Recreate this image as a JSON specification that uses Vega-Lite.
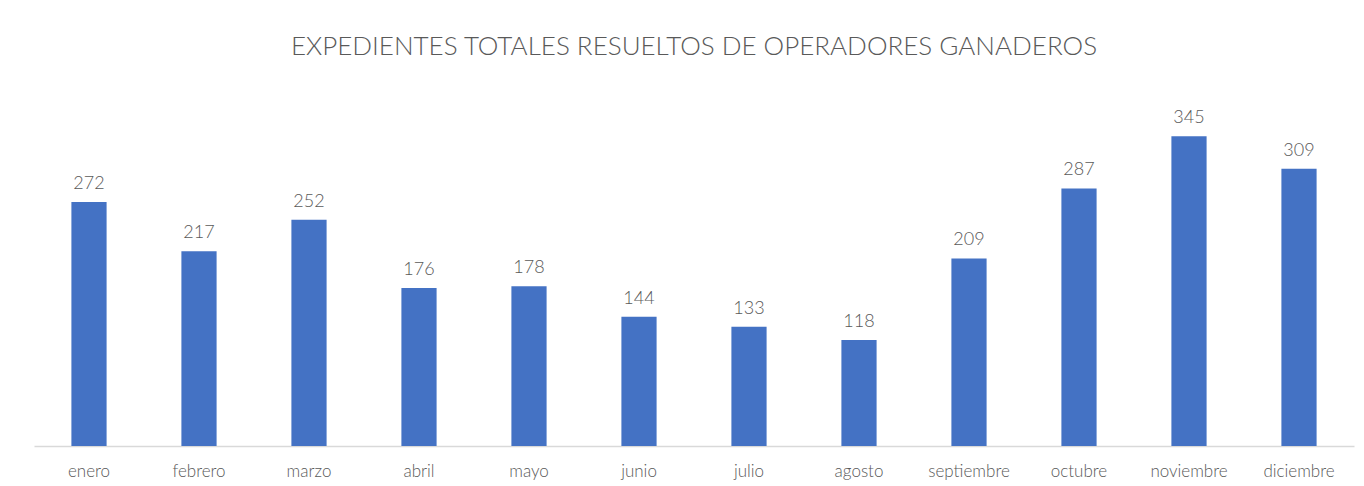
{
  "$schema": "https://vega.github.io/schema/vega-lite/v6.json",
  "width": 1320,
  "height": 359,
  "autosize": "none",
  "padding": {"left": 34, "top": 87, "right": 10, "bottom": 40},
  "background": "white",
  "title": {
    "text": "EXPEDIENTES TOTALES RESUELTOS DE OPERADORES GANADEROS",
    "anchor": "middle",
    "frame": "group",
    "baseline": "alphabetic",
    "offset": 6,
    "font": "Lato",
    "fontWeight": 300,
    "fontSize": 26,
    "color": "#595959"
  },
  "data": {
    "values": [
      {"mes": "enero", "expedientes": 272},
      {"mes": "febrero", "expedientes": 217},
      {"mes": "marzo", "expedientes": 252},
      {"mes": "abril", "expedientes": 176},
      {"mes": "mayo", "expedientes": 178},
      {"mes": "junio", "expedientes": 144},
      {"mes": "julio", "expedientes": 133},
      {"mes": "agosto", "expedientes": 118},
      {"mes": "septiembre", "expedientes": 209},
      {"mes": "octubre", "expedientes": 287},
      {"mes": "noviembre", "expedientes": 345},
      {"mes": "diciembre", "expedientes": 309}
    ]
  },
  "encoding": {
    "x": {
      "field": "mes",
      "type": "nominal",
      "sort": null,
      "title": null,
      "scale": {"paddingInner": 0.68, "paddingOuter": 0.34},
      "axis": {
        "labelAngle": 0,
        "ticks": false,
        "tickSize": 0,
        "domainColor": "#d9d9d9",
        "domainWidth": 1.5,
        "labelFont": "Lato",
        "labelFontWeight": 300,
        "labelFontSize": 17,
        "labelColor": "#595959",
        "labelBaseline": "alphabetic",
        "labelPadding": 30,
        "grid": false
      }
    },
    "y": {
      "field": "expedientes",
      "type": "quantitative",
      "scale": {"domain": [0, 400]},
      "axis": null
    }
  },
  "layer": [
    {"mark": {"type": "bar", "color": "#4472C4"}},
    {
      "mark": {
        "type": "text",
        "baseline": "alphabetic",
        "dy": -13,
        "font": "Lato",
        "fontWeight": 300,
        "fontSize": 18,
        "color": "#595959"
      },
      "encoding": {"text": {"field": "expedientes", "type": "quantitative"}}
    }
  ],
  "config": {"view": {"stroke": null}}
}
